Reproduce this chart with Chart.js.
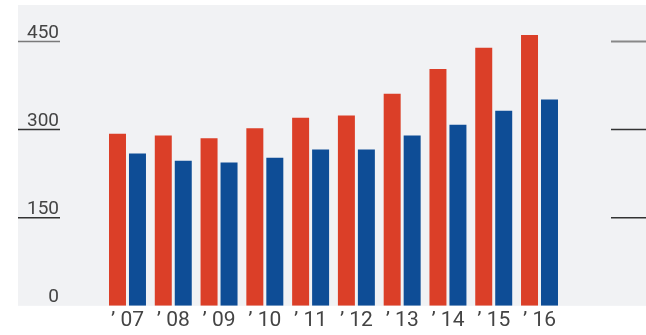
<!DOCTYPE html>
<html>
<head>
<meta charset="utf-8">
<script src="https://cdn.jsdelivr.net/npm/chart.js@4/dist/chart.umd.min.js"></script>
<style>
html,body{margin:0;padding:0;background:#fff;}
#wrap{width:646px;height:335px;position:relative;}
</style>
</head>
<body>
<div id="wrap"><canvas id="c" width="646" height="335"></canvas></div>
<script>
const categories = ["’ 07","’ 08","’ 09","’ 10","’ 11","’ 12","’ 13","’ 14","’ 15","’ 16"];
const seriesRed  = [293, 290, 285, 302, 320, 324, 361, 403, 439, 461];
const seriesBlue = [259, 247, 244, 252, 266, 266, 290, 308, 332, 351];
const tickValues = [0, 150, 300, 450];
const tickLabels = ["0", "150", "300", "450"];

const FONT = "'Liberation Sans Narrow', 'Roboto', 'Liberation Sans', sans-serif";

const decor = {
  id: 'decor',
  beforeDraw(chart) {
    const ctx = chart.ctx;
    const y = chart.scales.y;
    const bottom = y.getPixelForValue(0);
    ctx.save();
    ctx.fillStyle = '#f1f2f4';
    ctx.fillRect(18, 5, chart.width - 18, bottom - 5);
    ctx.restore();
  },
  afterDraw(chart) {
    const ctx = chart.ctx;
    const y = chart.scales.y;
    ctx.save();
    tickValues.forEach((v, i) => {
      const py = y.getPixelForValue(v);
      if (v !== 0) {
        ctx.strokeStyle = v === 450 ? '#7a7a7a' : '#333333';
        ctx.lineWidth = 1.5;
        ctx.beginPath(); ctx.moveTo(18, py); ctx.lineTo(60, py); ctx.stroke();
        ctx.strokeStyle = v === 450 ? '#888888' : '#333333';
        ctx.lineWidth = v === 450 ? 2 : 1.5;
        ctx.beginPath(); ctx.moveTo(611, py); ctx.lineTo(chart.width, py); ctx.stroke();
      }
      ctx.fillStyle = '#444444';
      ctx.font = '19px ' + FONT;
      ctx.textAlign = 'right';
      ctx.textBaseline = 'alphabetic';
      ctx.fillText(tickLabels[i], 59, py - 3.5);
    });
    ctx.restore();
  }
};

new Chart(document.getElementById('c'), {
  type: 'bar',
  data: {
    labels: categories,
    datasets: [
      { data: seriesRed, backgroundColor: '#db3f28', borderWidth: 0 },
      { data: seriesBlue, backgroundColor: '#0e4d96', borderWidth: 0 }
    ]
  },
  options: {
    responsive: false,
    animation: false,
    devicePixelRatio: 1,
    layout: { padding: { left: 104.6, right: 83.6, top: 12, bottom: 0 } },
    categoryPercentage: 0.873,
    barPercentage: 0.85,
    plugins: { legend: { display: false }, tooltip: { enabled: false } },
    scales: {
      x: {
        grid: { display: false, drawTicks: false },
        border: { display: false },
        ticks: { color: '#444444', font: { family: FONT, size: 21 }, padding: 2, maxRotation: 0, autoSkip: false }
      },
      y: {
        display: false,
        min: 0,
        max: 500
      }
    }
  },
  plugins: [decor]
});
</script>
</body>
</html>
